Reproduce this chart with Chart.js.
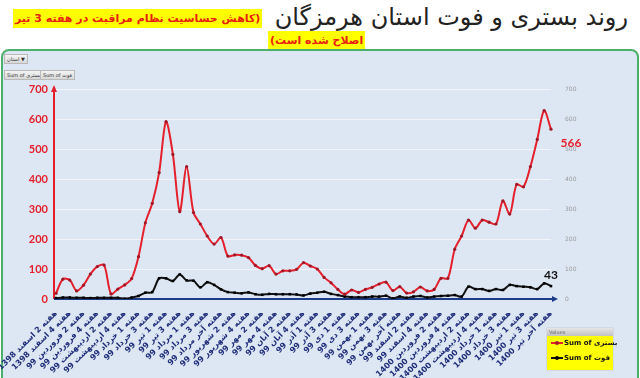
<!DOCTYPE html>
<html>
<head>
<meta charset="utf-8">
<script src="https://cdn.jsdelivr.net/npm/chart.js@4.4.1/dist/chart.umd.min.js"></script>
<style>
  body { margin: 0; width: 640px; height: 378px; overflow: hidden; position: relative; background: #fff; font-family: "DejaVu Sans", sans-serif; }
  #title { position: absolute; right: 12px; top: 3px; font-size: 24px; color: #222; direction: rtl; white-space: nowrap; }
  .hl { position: absolute; background: #ffff00; color: #e8200c; font-weight: bold; font-size: 11px; line-height: 15px; direction: rtl; white-space: nowrap; padding: 2px 2px; }
  #hl1 { left: 13px; top: 9px; }
  #hl2 { left: 268px; top: 31px; }
  #frame { position: absolute; left: 1px; top: 49px; width: 634px; height: 340px; background: #dde7f3; border: 2px solid #4cb06c; border-radius: 8px 8px 0 0; }
  #wrap { position: absolute; left: 0; top: 48px; width: 640px; height: 330px; }
  .btn { position: absolute; height: 8px; line-height: 8px; font-size: 5px; color: #333; background: linear-gradient(#f4f4f4, #d8d8d8); border: 1px solid #b9b9b9; padding: 0 2px; white-space: nowrap; }
  #legend { position: absolute; left: 547px; top: 328px; width: 66px; height: 42px; background: #ffff00; box-shadow: 0 0 1px #999; }
  #legend .head { height: 8px; line-height: 8px; font-size: 5px; color: #666; padding-left: 2px; background: linear-gradient(#e6e6e6, #c2c2c2); }
  #legend .row { height: 15px; line-height: 15px; font-size: 7px; font-weight: bold; color: #111; white-space: nowrap; padding-left: 4px; }
  .sw { display: inline-block; width: 12px; height: 2px; vertical-align: middle; position: relative; margin-right: 1px; }
  .sw i { position: absolute; left: 4px; top: -1px; width: 4px; height: 4px; border-radius: 2px; }
</style>
</head>
<body>
<div id="title">روند بستری و فوت استان هرمزگان</div>
<div class="hl" id="hl1">(کاهش حساسیت نظام مراقبت در هفته 3 تیر</div>
<div class="hl" id="hl2">اصلاح شده است)</div>
<div id="frame"></div>
<div class="btn" style="left:4px;top:54px;">استان ▼</div>
<div class="btn" style="left:4px;top:70px;">Sum of بستری</div>
<div class="btn" style="left:40px;top:70px;">Sum of فوت</div>
<div id="wrap"><canvas id="myChart" width="640" height="330"></canvas></div>
<div id="legend">
  <div class="head">Values</div>
  <div class="row"><span class="sw" style="background:#e3202c"><i style="background:#a01828"></i></span>Sum of بستری</div>
  <div class="row"><span class="sw" style="background:#111"><i style="background:#000"></i></span>Sum of فوت</div>
</div>
<script>
// tick labels (every second week)
const weekLabels = [
  "هفته 2 اسفند 1398", "هفته 4 اسفند 1398",
  "هفته 2 فروردین 99", "هفته 4 فروردین 99", "هفته 2 اردیبهشت 99", "هفته 4 اردیبهشت 99",
  "هفته 1 خرداد 99", "هفته 3 خرداد 99", "هفته 1 تیر 99", "هفته 3 تیر 99",
  "هفته 1 مرداد 99", "هفته 3 مرداد 99", "هفته آخر مرداد 99", "هفته 2 شهریور 99",
  "هفته 4 شهریور 99", "هفته 2 مهر 99", "هفته 4 مهر 99", "هفته 2 آبان 99",
  "هفته 4 آبان 99", "هفته 1 آذر 99", "هفته 3 آذر 99", "هفته 1 دی 99",
  "هفته 3 دی 99", "هفته 1 بهمن 99", "هفته 3 بهمن 99", "هفته آخر بهمن 99",
  "هفته 2 اسفند 99", "هفته 4 اسفند 99",
  "هفته 2 فروردین 1400", "هفته 4 فروردین 1400", "هفته 2 اردیبهشت 1400", "هفته 4 اردیبهشت 1400",
  "هفته 1 خرداد 1400", "هفته 3 خرداد 1400", "هفته 1 تیر 1400", "هفته 3 تیر 1400",
  "هفته آخر تیر 1400"
];

// weekly hospitalised (بستری)
const hospitalized = [
  19, 66, 63, 27, 46, 83, 108, 113, 17, 33,
  47, 68, 141, 254, 319, 421, 591, 482, 291, 441,
  288, 250, 210, 183, 205, 143, 147, 146, 138, 112,
  101, 111, 83, 94, 94, 99, 121, 110, 100, 72,
  54, 32, 16, 30, 22, 32, 39, 50, 56, 28,
  41, 20, 24, 40, 27, 32, 69, 69, 166, 210,
  263, 236, 263, 256, 250, 327, 283, 382, 374, 441,
  532, 628, 566
];

// weekly deaths (فوت)
const deaths = [
  3, 5, 5, 4, 4, 3, 4, 4, 4, 4,
  1, 5, 10, 21, 23, 69, 69, 60, 82, 62,
  61, 39, 56, 47, 32, 23, 21, 19, 22, 16,
  14, 17, 16, 16, 16, 15, 12, 18, 21, 24,
  17, 13, 8, 6, 6, 6, 8, 8, 11, 2,
  8, 4, 8, 10, 5, 8, 10, 11, 13, 8,
  41, 33, 33, 27, 33, 30, 47, 43, 41, 39,
  33, 52, 43
];

const yMin = 0, yMax = 700, yStep = 100;

// one category per week, label shown every second week
const categories = [];
weekLabels.forEach((l, i) => {
  categories.push(l);
  if (i < weekLabels.length - 1) categories.push("");
});

const axisArrows = {
  id: "axisArrows",
  beforeDatasetsDraw(chart) {
    const { ctx, chartArea: a } = chart;
    ctx.save();
    // red vertical axis with arrow
    ctx.strokeStyle = "#e3202c";
    ctx.fillStyle = "#e3202c";
    ctx.lineWidth = 2;
    ctx.beginPath();
    ctx.moveTo(a.left - 2, a.bottom);
    ctx.lineTo(a.left - 2, a.top + 2);
    ctx.stroke();
    ctx.beginPath();
    ctx.moveTo(a.left - 2, a.top - 4);
    ctx.lineTo(a.left - 5, a.top + 3);
    ctx.lineTo(a.left + 1, a.top + 3);
    ctx.fill();
    // blue horizontal axis with arrow
    ctx.strokeStyle = "#1f3c88";
    ctx.fillStyle = "#1f3c88";
    ctx.beginPath();
    ctx.moveTo(a.left - 2, a.bottom);
    ctx.lineTo(a.right + 2, a.bottom);
    ctx.stroke();
    ctx.beginPath();
    ctx.moveTo(a.right + 7, a.bottom);
    ctx.lineTo(a.right + 1, a.bottom - 3);
    ctx.lineTo(a.right + 1, a.bottom + 3);
    ctx.fill();
    ctx.restore();
  }
};

const lastLabels = {
  id: "lastLabels",
  afterDatasetsDraw(chart) {
    const { ctx } = chart;
    ctx.save();
    ctx.font = "bold 12px Lato, sans-serif";
    ctx.textAlign = "center";
    ctx.textBaseline = "middle";
    const p0 = chart.getDatasetMeta(0).data[hospitalized.length - 1];
    ctx.fillStyle = "#e3202c";
    ctx.fillText(hospitalized[hospitalized.length - 1], p0.x + 20, p0.y + 14);
    const p1 = chart.getDatasetMeta(1).data[deaths.length - 1];
    ctx.fillStyle = "#111";
    ctx.fillText(deaths[deaths.length - 1], p1.x, p1.y - 11);
    ctx.restore();
  }
};

const config = {
  type: "line",
  data: {
    labels: categories,
    datasets: [
      {
        label: "Sum of بستری",
        data: hospitalized,
        borderColor: "#e3202c",
        borderWidth: 2,
        pointRadius: 1.6,
        pointBackgroundColor: "#a01828",
        pointBorderWidth: 0,
        tension: 0.3,
        yAxisID: "y"
      },
      {
        label: "Sum of فوت",
        data: deaths,
        borderColor: "#111",
        borderWidth: 2,
        pointRadius: 1.8,
        pointStyle: "rect",
        pointBackgroundColor: "#000",
        pointBorderWidth: 0,
        tension: 0.3,
        yAxisID: "y"
      }
    ]
  },
  options: {
    responsive: false,
    animation: false,
    layout: { padding: { top: 41, left: 0, right: 0, bottom: 0 } },
    plugins: { legend: { display: false }, tooltip: { enabled: false } },
    scales: {
      x: {
        grid: { display: false },
        border: { display: false },
        ticks: {
          autoSkip: false,
          maxRotation: 45,
          minRotation: 45,
          padding: 2,
          color: "#1f2d7a",
          font: { family: "DejaVu Sans", size: 8, weight: "bold" }
        },
        afterFit(s) { s.height = 79; s.paddingLeft = 0; s.paddingRight = 0; }
      },
      y: {
        min: yMin, max: yMax,
        grid: { color: "rgba(255,255,255,0.6)", drawTicks: false },
        border: { display: false },
        ticks: {
          stepSize: yStep,
          padding: 8,
          color: "#e3202c",
          font: { family: "Lato", size: 11, weight: "bold" }
        },
        afterFit(s) { s.width = 56; }
      },
      y2: {
        position: "right",
        min: yMin, max: yMax,
        grid: { display: false },
        border: { display: false },
        ticks: {
          stepSize: yStep,
          padding: 6,
          color: "#9a9a9a",
          font: { family: "DejaVu Sans", size: 6 }
        },
        afterFit(s) { s.width = 89; }
      }
    }
  },
  plugins: [axisArrows, lastLabels]
};

new Chart(document.getElementById("myChart"), config);
</script>
</body>
</html>
